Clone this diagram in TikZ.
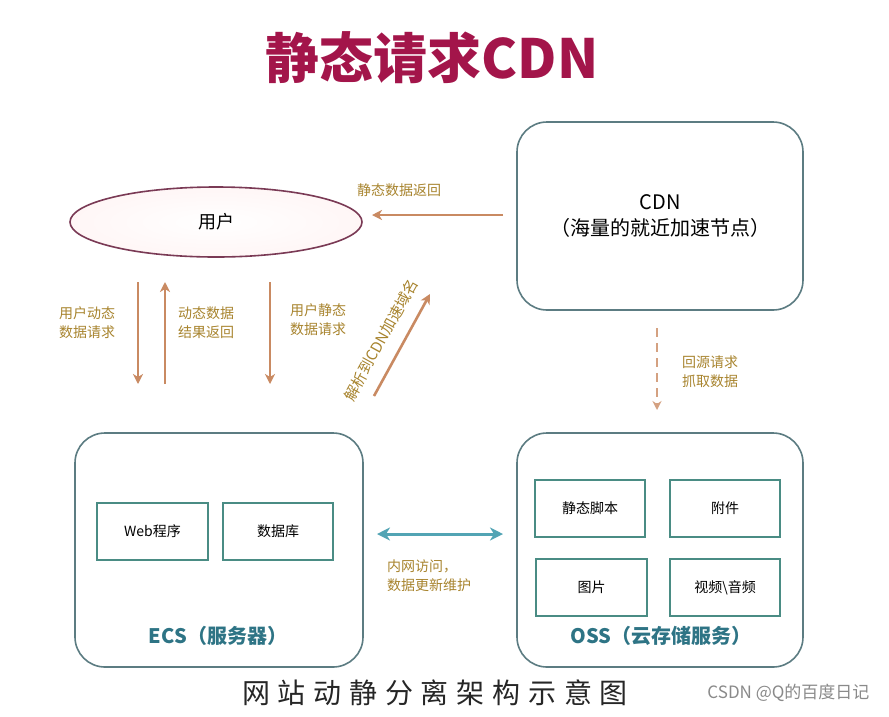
\documentclass[tikz,border=0pt]{standalone}
\usepackage{fontspec}
\setmainfont{Noto Sans CJK SC}
\setsansfont{Noto Sans CJK SC}
\newfontfamily\wmfont{Noto Sans CJK SC}
\usetikzlibrary{shapes.geometric,arrows.meta,positioning}
\definecolor{titlered}{HTML}{A3154A}
\definecolor{arrowbrown}{HTML}{C98A62}
\definecolor{labelgold}{HTML}{A8842E}
\definecolor{boxgray}{HTML}{5C7C82}
\definecolor{innerteal}{HTML}{4A8C84}
\definecolor{tealtext}{HTML}{2E7485}
\definecolor{dblteal}{HTML}{52A4B4}
\definecolor{ellstroke}{HTML}{7A3A55}
\definecolor{wmgray}{HTML}{8A8A8A}
\tikzset{
  bigbox/.style={draw=boxgray, line width=1.6pt, rounded corners=30pt, fill=white},
  innerbox/.style={draw=innerteal, line width=2pt, fill=white, font=\fontsize{14}{17}\selectfont},
  brownarrow/.style={draw=arrowbrown, line width=2.6pt, -{Stealth[length=10pt,width=10pt,inset=3pt]}},
  goldlabel/.style={text=labelgold, font=\fontsize{14}{19}\selectfont, align=center, inner sep=0pt},
}
\begin{document}
\begin{tikzpicture}[x=1pt,y=-1pt]
\useasboundingbox[fill=white] (0,0) rectangle (889,716);

% title
\node[text=titlered, font=\fontsize{54}{58}\selectfont\bfseries] (title) at (432,58) {静态请求CDN};

% user ellipse
\node[ellipse, draw=ellstroke, line width=1.6pt, inner color=white, outer color=pink!14,
      minimum width=292pt, minimum height=70pt, font=\fontsize{18}{20}\selectfont] (user) at (216,222) {用户};

% CDN box
\node[bigbox, minimum width=286pt, minimum height=188pt, align=center,
      font=\fontsize{20}{26}\selectfont] (cdn) at (660,216) {CDN\\（海量的就近加速节点）};

% ECS box
\node[bigbox, minimum width=288pt, minimum height=234pt] (ecs) at (219,550) {};
\node[text=tealtext, font=\fontsize{20}{24}\selectfont\bfseries] (ecslabel) at (218,636) {ECS（服务器）};
\node[innerbox, minimum width=111pt, minimum height=57pt] (web) at (152.5,531.5) {Web程序};
\node[innerbox, minimum width=110pt, minimum height=57pt] (db) at (278,531.5) {数据库};

% OSS box
\node[bigbox, minimum width=286pt, minimum height=234pt] (oss) at (660,550) {};
\node[text=tealtext, font=\fontsize{20}{24}\selectfont\bfseries] (osslabel) at (661,636) {OSS（云存储服务）};
\node[innerbox, minimum width=110pt, minimum height=57pt] (js) at (590,508.5) {静态脚本};
\node[innerbox, minimum width=110pt, minimum height=57pt] (att) at (725,508.5) {附件};
\node[innerbox, minimum width=111pt, minimum height=57pt] (img) at (591.5,587.5) {图片};
\node[innerbox, minimum width=110pt, minimum height=57pt] (vid) at (725,587.5) {视频\textbackslash 音频};

% CDN -> user
\coordinate (cdnout) at (503,215);
\coordinate (userin) at (372,215);
\draw[brownarrow] (cdnout) -- (userin);
\node[goldlabel] (lblret) at (399,190) {静态数据返回};

% vertical arrows
\coordinate (a1s) at (138,282); \coordinate (a1e) at (138,384);
\coordinate (a2s) at (165,384); \coordinate (a2e) at (165,282);
\coordinate (a3s) at (270,282); \coordinate (a3e) at (270,384);
\draw[brownarrow] (a1s) -- (a1e);
\draw[brownarrow] (a2s) -- (a2e);
\draw[brownarrow] (a3s) -- (a3e);
\node[goldlabel] (lbl1) at (87,323) {用户动态\\数据请求};
\node[goldlabel] (lbl2) at (206,323) {动态数据\\结果返回};
\node[goldlabel] (lbl3) at (318,320) {用户静态\\数据请求};

% diagonal arrow
\coordinate (ds) at (374,396);
\coordinate (de) at (430,294);
\draw[brownarrow] (ds) -- (de);
\node[goldlabel, rotate=61, font=\fontsize{15}{18}\selectfont] (lbldiag) at (381,340) {解析到CDN加速域名};

% dashed arrow from CDN to OSS
\coordinate (bs) at (657,328);
\coordinate (be) at (657,410);
\draw[draw=arrowbrown!80, line width=2.4pt, dash pattern=on 9pt off 6pt, -{Stealth[length=9pt,width=9pt,inset=3pt]}] (bs) -- (be);
\node[goldlabel] (lblsrc) at (710,372) {回源请求\\抓取数据};

% double arrow ECS <-> OSS
\coordinate (l1) at (377,534);
\coordinate (l2) at (503,534);
\draw[draw=dblteal, line width=3pt, {Stealth[length=13pt,width=13pt,inset=4pt]}-{Stealth[length=13pt,width=13pt,inset=4pt]}] (l1) -- (l2);
\node[goldlabel, align=left, anchor=west] (lblnet) at (387,576) {内网访问，\\数据更新维护};

% caption
\node[font=\fontsize{28}{30}\selectfont, text=black!85] (caption) at (435,693)
  {网\hspace{7.8pt}站\hspace{7.8pt}动\hspace{7.8pt}静\hspace{7.8pt}分\hspace{7.8pt}离\hspace{7.8pt}架\hspace{7.8pt}构\hspace{7.8pt}示\hspace{7.8pt}意\hspace{7.8pt}图};

% watermark
\node[text=wmgray, font=\wmfont\fontsize{17}{20}\selectfont, anchor=east] (wm) at (873,693) {CSDN @Q的百度日记};
\end{tikzpicture}
\end{document}
